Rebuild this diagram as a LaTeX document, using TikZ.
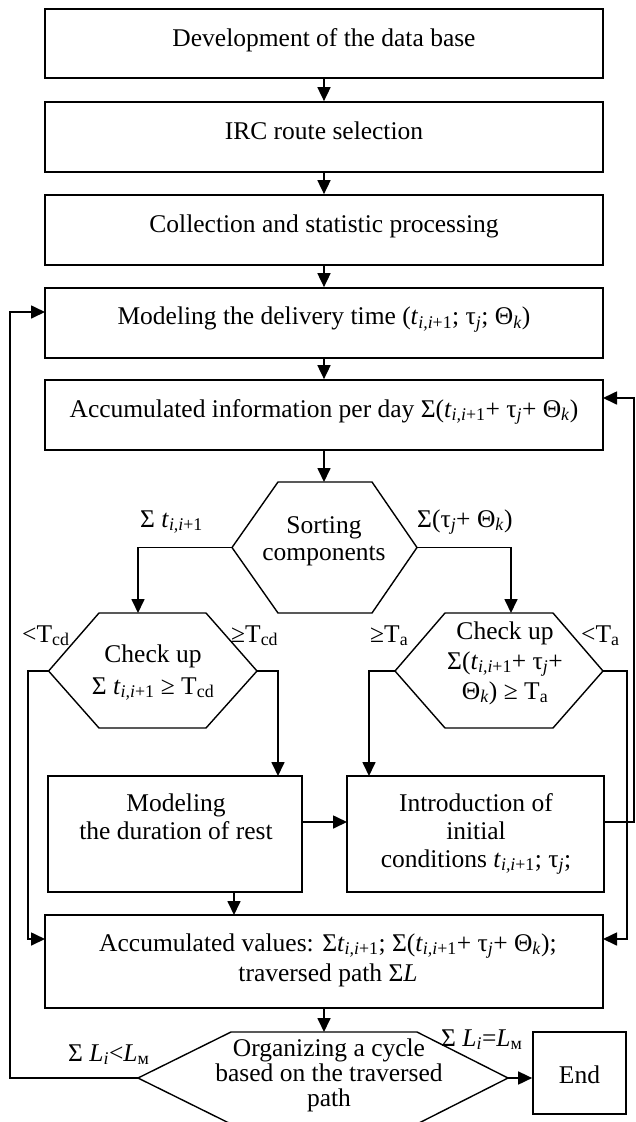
\documentclass[tikz,border=0pt]{standalone}
\usepackage{fontspec}
\setmainfont{Liberation Serif}
\usetikzlibrary{arrows.meta}
\newcommand{\myt}{\textit{t}\textsubscript{\textit{i,i}+1}}
\newcommand{\mytau}{τ\textsubscript{\textit{j}}}
\newcommand{\myth}{Θ\textsubscript{\textit{k}}}
\newcommand{\myL}{\textit{L}\textsubscript{\textit{i}}}
\newcommand{\myLM}{\textit{L}\textsubscript{м}}
\tikzset{
  box/.style={draw, line width=1.7pt, inner sep=0pt},
  txt/.style={anchor=base, inner sep=0pt},
  lbl/.style={anchor=base west, inner sep=0pt},
  conn/.style={line width=1.7pt, -{Triangle[length=14pt,width=13pt]}},
  hexa/.style={line width=1.4pt, line join=miter},
}
\begin{document}
\begin{tikzpicture}[x=1pt, y=-1pt, font=\fontsize{25.5}{29}\selectfont]
\fill[white] (0,0) rectangle (635,1122);
\useasboundingbox (0,0) rectangle (635,1122);
\clip (0,0) rectangle (635,1122);

% boxes
\node[box, minimum width=558pt, minimum height=69pt] (b1) at (324,43.5) {};
\node[box, minimum width=558pt, minimum height=70pt] (b2) at (324,137) {};
\node[box, minimum width=558pt, minimum height=70pt] (b3) at (324,230) {};
\node[box, minimum width=558pt, minimum height=70pt] (b4) at (324,323) {};
\node[box, minimum width=558pt, minimum height=70pt] (b5) at (324,415) {};
\node[box, minimum width=254pt, minimum height=116pt] (mod) at (175,834) {};
\node[box, minimum width=257pt, minimum height=116pt] (intro) at (475.5,834) {};
\node[box, minimum width=558pt, minimum height=93pt] (acc) at (324,961.5) {};
\node[box, minimum width=93pt, minimum height=82pt] (end) at (579.5,1073) {};

% box texts
\node[txt] (t1) at (324,46) {Development of the data base};
\node[txt] (t2) at (324,139.5) {IRC route selection};
\node[txt] (t3) at (324,232.5) {Collection and statistic processing};
\node[txt] (t4) at (324,324.5) {Modeling the delivery time (\myt; \mytau; \myth)};
\node[txt] (t5) at (324,417) {Accumulated information per day Σ(\myt+ \mytau+ \myth)};
\node[txt] (tm1) at (176,811) {Modeling};
\node[txt] (tm2) at (176,839) {the duration of rest};
\node[txt] (ti1) at (476,811) {Introduction of};
\node[txt] (ti2) at (476,839) {initial};
\node[txt] (ti3) at (476,867) {conditions \myt; \mytau;};
\node[txt] (ta1) at (328,951) {Accumulated values: Σ\myt; Σ(\myt+ \mytau+ \myth);};
\node[txt] (ta2) at (328,981) {traversed path Σ\textit{L}};
\node[txt] (te) at (579.5,1083) {End};

% hexagon coordinates
\coordinate (sL) at (232,547.5); \coordinate (sTL) at (278,482); \coordinate (sTR) at (372,482);
\coordinate (sR) at (417,547.5); \coordinate (sBR) at (372,613); \coordinate (sBL) at (278,613);
\coordinate (sT) at (324,482);
\coordinate (lL) at (48.6,671); \coordinate (lTL) at (99,613); \coordinate (lTR) at (206,613);
\coordinate (lR) at (257,671); \coordinate (lBR) at (206,728); \coordinate (lBL) at (99,728);
\coordinate (lT) at (138,613);
\coordinate (rL) at (395,671); \coordinate (rTL) at (445,613); \coordinate (rTR) at (553,613);
\coordinate (rR) at (603,671); \coordinate (rBR) at (553,728); \coordinate (rBL) at (445,728);
\coordinate (rT) at (511,613);
\coordinate (oL) at (138,1078); \coordinate (oTL) at (231,1032); \coordinate (oTR) at (417,1032);
\coordinate (oR) at (508,1078); \coordinate (oBR) at (417,1124); \coordinate (oBL) at (231,1124);
\coordinate (oT) at (324,1032);

\draw[hexa] (sL) -- (sTL) -- (sTR) -- (sR) -- (sBR) -- (sBL) -- cycle;
\draw[hexa] (lL) -- (lTL) -- (lTR) -- (lR) -- (lBR) -- (lBL) -- cycle;
\draw[hexa] (rL) -- (rTL) -- (rTR) -- (rR) -- (rBR) -- (rBL) -- cycle;
\draw[hexa] (oL) -- (oTL) -- (oTR) -- (oR) -- (oBR) -- (oBL) -- cycle;

% hexagon texts
\node[txt] (ts1) at (324,533) {Sorting};
\node[txt] (ts2) at (324,560) {components};
\node[txt] (tl1) at (153,662) {Check up};
\node[txt] (tl2) at (153,694) {Σ \myt{} ≥ T\textsubscript{cd}};
\node[txt] (tr1) at (505,639) {Check up};
\node[txt] (tr2) at (505,669) {Σ(\myt+ \mytau+};
\node[txt] (tr3) at (505,699) {\myth) ≥ T\textsubscript{a}};
\node[txt] (to1) at (329,1056) {Organizing a cycle};
\node[txt] (to2) at (329,1081) {based on the traversed};
\node[txt] (to3) at (329,1106) {path};

% branch labels
\node[lbl] (l1) at (140,527) {Σ \myt};
\node[lbl] (l2) at (417,527) {Σ(\mytau+ \myth)};
\node[lbl] (l3) at (22,642) {<T\textsubscript{cd}};
\node[lbl] (l4) at (231,642) {≥T\textsubscript{cd}};
\node[lbl] (l5) at (370,642) {≥T\textsubscript{a}};
\node[lbl] (l6) at (581,642) {<T\textsubscript{a}};
\node[lbl] (l7) at (68,1061) {Σ \myL<\myLM};
\node[lbl] (l8) at (441,1046) {Σ \myL=\myLM};

% connector helper coordinates
\coordinate (lLx) at (28,671);
\coordinate (accLin) at (45,939);
\coordinate (rRx) at (627,671);
\coordinate (accRin) at (603,939);
\coordinate (modT) at (278,776);
\coordinate (intT) at (369,776);
\coordinate (modR) at (302,822);
\coordinate (intL) at (347,822);
\coordinate (intR) at (604,822);
\coordinate (intRx) at (634,822);
\coordinate (b5Rin) at (603,398);
\coordinate (modB) at (234,892);
\coordinate (accT) at (234,915);
\coordinate (accB) at (324,1008);
\coordinate (oLx) at (10,1078);
\coordinate (b4Lin) at (45,312);

% connectors
\draw[conn] (b1.south) -- (b2.north);
\draw[conn] (b2.south) -- (b3.north);
\draw[conn] (b3.south) -- (b4.north);
\draw[conn] (b4.south) -- (b5.north);
\draw[conn] (b5.south) -- (sT);
\draw[conn] (sL) -| (lT);
\draw[conn] (sR) -| (rT);
\draw[conn] (lL) -- (lLx) |- (accLin);
\draw[conn] (lR) -| (modT);
\draw[conn] (rL) -| (intT);
\draw[conn] (rR) -- (rRx) |- (accRin);
\draw[conn] (modR) -- (intL);
\draw[conn] (intR) -- (intRx) |- (b5Rin);
\draw[conn] (modB) -- (accT);
\draw[conn] (accB) -- (oT);
\draw[conn] (oL) -- (oLx) |- (b4Lin);
\draw[conn] (oR) -- (end.west |- oR);
\end{tikzpicture}
\end{document}
